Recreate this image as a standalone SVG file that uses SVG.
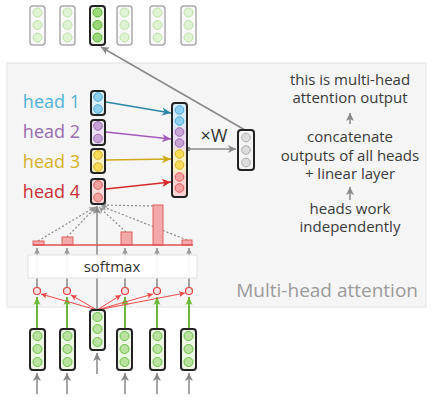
<svg xmlns="http://www.w3.org/2000/svg" width="436" height="400" viewBox="0 0 436 400">
<defs>
<marker id="ag" markerUnits="userSpaceOnUse" markerWidth="9" markerHeight="9" refX="8" refY="4.5" orient="auto"><path d="M0,0.5 L8,4.5 L0,8.5 L2,4.5 z" fill="#888"/></marker>
<marker id="ags" markerUnits="userSpaceOnUse" markerWidth="7" markerHeight="7" refX="6" refY="3.5" orient="auto"><path d="M0,0.5 L6,3.5 L0,6.5 L1.5,3.5 z" fill="#999"/></marker>
<marker id="agr" markerUnits="userSpaceOnUse" markerWidth="7" markerHeight="7" refX="6" refY="3.5" orient="auto"><path d="M0,0.5 L6,3.5 L0,6.5 L1.5,3.5 z" fill="#e84545"/></marker>
<marker id="agn" markerUnits="userSpaceOnUse" markerWidth="9" markerHeight="9" refX="8" refY="4.5" orient="auto"><path d="M0,1 L8,4.5 L0,8 L2,4.5 z" fill="#6ab83b"/></marker>
<marker id="a1" markerUnits="userSpaceOnUse" markerWidth="10" markerHeight="10" refX="9" refY="5" orient="auto"><path d="M0,1 L9,5 L0,9 L2.5,5 z" fill="#2a86a6"/></marker>
<marker id="a2" markerUnits="userSpaceOnUse" markerWidth="10" markerHeight="10" refX="9" refY="5" orient="auto"><path d="M0,1 L9,5 L0,9 L2.5,5 z" fill="#a25cb8"/></marker>
<marker id="a3" markerUnits="userSpaceOnUse" markerWidth="10" markerHeight="10" refX="9" refY="5" orient="auto"><path d="M0,1 L9,5 L0,9 L2.5,5 z" fill="#cfa817"/></marker>
<marker id="a4" markerUnits="userSpaceOnUse" markerWidth="10" markerHeight="10" refX="9" refY="5" orient="auto"><path d="M0,1 L9,5 L0,9 L2.5,5 z" fill="#d62a2a"/></marker>
<linearGradient id="cg" x1="0" y1="0" x2="0" y2="1">
<stop offset="0" stop-color="#d7ecf8"/><stop offset="0.22" stop-color="#d7ecf8"/>
<stop offset="0.3" stop-color="#ebdcf0"/><stop offset="0.46" stop-color="#ebdcf0"/>
<stop offset="0.54" stop-color="#fbf0c2"/><stop offset="0.7" stop-color="#fbf0c2"/>
<stop offset="0.78" stop-color="#f9d5d5"/><stop offset="1" stop-color="#f9d5d5"/>
</linearGradient>
</defs>
<style>
text{font-family:"Open Sans","Liberation Sans",sans-serif}
.box{stroke:#222;stroke-width:2}
.faded{fill:#fafafa;stroke:#aaa;stroke-width:1.5}
.gc{fill:#b9e39f;stroke:#6cbf4a;stroke-width:1}
.gcf{fill:#dff2d2;stroke:#bde0a8;stroke-width:1}
.gcb{fill:#9ad877;stroke:#5cb338;stroke-width:1}
.c1{fill:#8fd0f0;stroke:#4ea8d6;stroke-width:1}
.c2{fill:#c7a3d6;stroke:#9b6bb0;stroke-width:1}
.c3{fill:#f8dc55;stroke:#d6b22a;stroke-width:1}
.c4{fill:#f5a3a3;stroke:#de5b5b;stroke-width:1}
.cgy{fill:#ddd;stroke:#aaa;stroke-width:1}
.gl{stroke:#888;stroke-width:1.5;fill:none}
.dot{stroke:#888;stroke-width:1.2;stroke-dasharray:2 2;fill:none}
.rl{stroke:#ee4a4a;stroke-width:1;fill:none}
.gr{stroke:#6ab83b;stroke-width:2;fill:none}
.bar{fill:#f3a9a9;stroke:#e06060;stroke-width:1}
.rt{font-size:15px;fill:#3a3a3a;text-anchor:middle}
.hl{font-size:18px}
</style>

<g id="panel">
<rect x="7" y="63" width="419" height="244" fill="#f5f5f5" stroke="#e2e2e2" stroke-width="1"/>
<text x="418" y="297" font-size="19" fill="#9a9a9a" text-anchor="end">Multi-head attention</text>
</g>

<g id="connectors">
<line class="gl" x1="37" y1="394" x2="37" y2="373" marker-end="url(#ag)"/>
<line class="gl" x1="67" y1="394" x2="67" y2="373" marker-end="url(#ag)"/>
<line class="gl" x1="97" y1="374" x2="97" y2="353" marker-end="url(#ag)"/>
<line class="gl" x1="125" y1="394" x2="125" y2="373" marker-end="url(#ag)"/>
<line class="gl" x1="157" y1="394" x2="157" y2="373" marker-end="url(#ag)"/>
<line class="gl" x1="189" y1="394" x2="189" y2="373" marker-end="url(#ag)"/>
<line class="gr" x1="37" y1="328" x2="37" y2="297" marker-end="url(#agn)"/>
<line class="gr" x1="67" y1="328" x2="67" y2="297" marker-end="url(#agn)"/>
<line class="gr" x1="125" y1="328" x2="125" y2="297" marker-end="url(#agn)"/>
<line class="gr" x1="157" y1="328" x2="157" y2="297" marker-end="url(#agn)"/>
<line class="gr" x1="189" y1="328" x2="189" y2="297" marker-end="url(#agn)"/>
<line class="rl" x1="97" y1="310" x2="41" y2="294" marker-end="url(#agr)"/>
<line class="rl" x1="97" y1="310" x2="71" y2="295" marker-end="url(#agr)"/>
<line class="rl" x1="97" y1="310" x2="121" y2="295" marker-end="url(#agr)"/>
<line class="rl" x1="97" y1="310" x2="153" y2="294" marker-end="url(#agr)"/>
<line class="rl" x1="97" y1="310" x2="185" y2="293" marker-end="url(#agr)"/>
<line class="gl" stroke-width="1.2" x1="37" y1="288" x2="37" y2="248" marker-end="url(#ags)"/>
<line class="gl" stroke-width="1.2" x1="67" y1="288" x2="67" y2="248" marker-end="url(#ags)"/>
<line class="gl" stroke-width="1.2" x1="125" y1="288" x2="125" y2="248" marker-end="url(#ags)"/>
<line class="gl" stroke-width="1.2" x1="157" y1="288" x2="157" y2="248" marker-end="url(#ags)"/>
<line class="gl" stroke-width="1.2" x1="189" y1="288" x2="189" y2="248" marker-end="url(#ags)"/>
<line class="gl" x1="97" y1="310" x2="97" y2="206" marker-end="url(#ag)"/>
<line class="dot" x1="38" y1="241" x2="95" y2="207" marker-end="url(#ags)"/>
<line class="dot" x1="67" y1="237" x2="96" y2="207" marker-end="url(#ags)"/>
<line class="dot" x1="126" y1="232" x2="99" y2="207" marker-end="url(#ags)"/>
<line class="dot" x1="153" y1="206" x2="101" y2="205" marker-end="url(#ags)"/>
<line class="dot" x1="187" y1="240" x2="101" y2="206" marker-end="url(#ags)"/>
<line stroke="#2a86a6" stroke-width="1.5" x1="106" y1="102" x2="171" y2="113" marker-end="url(#a1)"/>
<line stroke="#a25cb8" stroke-width="1.5" x1="106" y1="132" x2="171" y2="139" marker-end="url(#a2)"/>
<line stroke="#cfa817" stroke-width="1.5" x1="106" y1="160" x2="171" y2="159" marker-end="url(#a3)"/>
<line stroke="#d62a2a" stroke-width="1.5" x1="106" y1="189" x2="171" y2="182" marker-end="url(#a4)"/>
<rect x="186" y="147" width="4" height="4" fill="#888"/>
<line class="gl" x1="188" y1="149" x2="236" y2="149" marker-end="url(#ag)"/>
<line class="gl" x1="245" y1="130" x2="101" y2="47" marker-end="url(#ag)"/>
<line class="gl" x1="350" y1="124" x2="350" y2="113" marker-end="url(#ag)"/>
<line class="gl" x1="350" y1="200" x2="350" y2="187" marker-end="url(#ag)"/>
</g>

<g id="softmax">
<rect x="28" y="255" width="169" height="23" fill="#ffffff" fill-opacity="0.95" stroke="#e0e0e0" stroke-width="1"/>
<text x="112" y="272" font-size="15" fill="#333" text-anchor="middle">softmax</text>
</g>

<g id="attention-weights">
<rect class="bar" x="33" y="241" width="11" height="4"/>
<rect class="bar" x="62" y="237" width="11" height="8"/>
<rect class="bar" x="121" y="232" width="11" height="13"/>
<rect class="bar" x="153" y="205" width="10" height="40"/>
<rect class="bar" x="182" y="240" width="10" height="5"/>
<line x1="33" y1="245" x2="193" y2="245" stroke="#e05050" stroke-width="1.5"/>
</g>

<g id="scores">
<circle cx="37" cy="291" r="3.5" fill="#fde3e3" stroke="#e04040" stroke-width="1.2"/>
<circle cx="67" cy="291" r="3.5" fill="#fde3e3" stroke="#e04040" stroke-width="1.2"/>
<circle cx="125" cy="291" r="3.5" fill="#fde3e3" stroke="#e04040" stroke-width="1.2"/>
<circle cx="157" cy="291" r="3.5" fill="#fde3e3" stroke="#e04040" stroke-width="1.2"/>
<circle cx="189" cy="291" r="3.5" fill="#fde3e3" stroke="#e04040" stroke-width="1.2"/>
</g>

<g id="inputs">
<g id="in1"><rect class="box" x="30" y="329" width="15" height="41" rx="3" fill="#ecf7e4"/><circle class="gc" cx="37.5" cy="336" r="4.5"/><circle class="gc" cx="37.5" cy="349" r="4.5"/><circle class="gc" cx="37.5" cy="362" r="4.5"/></g>
<g id="in2"><rect class="box" x="60" y="329" width="15" height="41" rx="3" fill="#ecf7e4"/><circle class="gc" cx="67.5" cy="336" r="4.5"/><circle class="gc" cx="67.5" cy="349" r="4.5"/><circle class="gc" cx="67.5" cy="362" r="4.5"/></g>
<g id="in3"><rect class="box" x="90" y="310" width="15" height="40" rx="3" fill="#ecf7e4"/><circle class="gc" cx="97.5" cy="317" r="4.5"/><circle class="gc" cx="97.5" cy="329" r="4.5"/><circle class="gc" cx="97.5" cy="342" r="4.5"/></g>
<g id="in4"><rect class="box" x="117" y="329" width="15" height="41" rx="3" fill="#ecf7e4"/><circle class="gc" cx="124.5" cy="336" r="4.5"/><circle class="gc" cx="124.5" cy="349" r="4.5"/><circle class="gc" cx="124.5" cy="362" r="4.5"/></g>
<g id="in5"><rect class="box" x="150" y="329" width="15" height="41" rx="3" fill="#ecf7e4"/><circle class="gc" cx="157.5" cy="336" r="4.5"/><circle class="gc" cx="157.5" cy="349" r="4.5"/><circle class="gc" cx="157.5" cy="362" r="4.5"/></g>
<g id="in6"><rect class="box" x="181" y="329" width="15" height="41" rx="3" fill="#ecf7e4"/><circle class="gc" cx="188.5" cy="336" r="4.5"/><circle class="gc" cx="188.5" cy="349" r="4.5"/><circle class="gc" cx="188.5" cy="362" r="4.5"/></g>
</g>

<g id="outputs-top">
<g id="out1"><rect class="faded" x="30" y="6" width="15" height="39" rx="3"/><circle class="gcf" cx="37.5" cy="12.5" r="4.5"/><circle class="gcf" cx="37.5" cy="25" r="4.5"/><circle class="gcf" cx="37.5" cy="37.5" r="4.5"/></g>
<g id="out2"><rect class="faded" x="60" y="6" width="15" height="39" rx="3"/><circle class="gcf" cx="67.5" cy="12.5" r="4.5"/><circle class="gcf" cx="67.5" cy="25" r="4.5"/><circle class="gcf" cx="67.5" cy="37.5" r="4.5"/></g>
<g id="out3"><rect class="box" x="90" y="6" width="15" height="39" rx="3" fill="#ecf7e4"/><circle class="gcb" cx="97.5" cy="12.5" r="4.5"/><circle class="gcb" cx="97.5" cy="25" r="4.5"/><circle class="gcb" cx="97.5" cy="37.5" r="4.5"/></g>
<g id="out4"><rect class="faded" x="117" y="6" width="15" height="39" rx="3"/><circle class="gcf" cx="124.5" cy="12.5" r="4.5"/><circle class="gcf" cx="124.5" cy="25" r="4.5"/><circle class="gcf" cx="124.5" cy="37.5" r="4.5"/></g>
<g id="out5"><rect class="faded" x="150" y="6" width="15" height="39" rx="3"/><circle class="gcf" cx="157.5" cy="12.5" r="4.5"/><circle class="gcf" cx="157.5" cy="25" r="4.5"/><circle class="gcf" cx="157.5" cy="37.5" r="4.5"/></g>
<g id="out6"><rect class="faded" x="181" y="6" width="15" height="39" rx="3"/><circle class="gcf" cx="188.5" cy="12.5" r="4.5"/><circle class="gcf" cx="188.5" cy="25" r="4.5"/><circle class="gcf" cx="188.5" cy="37.5" r="4.5"/></g>
</g>

<g id="head1">
<text class="hl" x="80" y="108" fill="#4fb3d9" text-anchor="end">head 1</text>
<rect class="box" x="91" y="91" width="14" height="24" rx="3" fill="#dcf0fb"/>
<circle class="c1" cx="98" cy="97" r="4.3"/><circle class="c1" cx="98" cy="109" r="4.3"/>
</g>
<g id="head2">
<text class="hl" x="80" y="138" fill="#9a6bb0" text-anchor="end">head 2</text>
<rect class="box" x="91" y="120" width="14" height="25" rx="3" fill="#ece0f1"/>
<circle class="c2" cx="98" cy="126" r="4.3"/><circle class="c2" cx="98" cy="138.5" r="4.3"/>
</g>
<g id="head3">
<text class="hl" x="80" y="168" fill="#d6b12c" text-anchor="end">head 3</text>
<rect class="box" x="91" y="149" width="14" height="24" rx="3" fill="#fcf2c6"/>
<circle class="c3" cx="98" cy="155" r="4.3"/><circle class="c3" cx="98" cy="167" r="4.3"/>
</g>
<g id="head4">
<text class="hl" x="80" y="198" fill="#c92f35" text-anchor="end">head 4</text>
<rect class="box" x="91" y="179" width="14" height="25" rx="3" fill="#fadada"/>
<circle class="c4" cx="98" cy="185" r="4.3"/><circle class="c4" cx="98" cy="197.5" r="4.3"/>
</g>

<g id="concat">
<rect class="box" x="172" y="103" width="15" height="94" rx="3" fill="url(#cg)"/>
<circle class="c1" cx="179.5" cy="110" r="4.3"/><circle class="c1" cx="179.5" cy="121" r="4.3"/>
<circle class="c2" cx="179.5" cy="132" r="4.3"/><circle class="c2" cx="179.5" cy="143" r="4.3"/>
<circle class="c3" cx="179.5" cy="154" r="4.3"/><circle class="c3" cx="179.5" cy="165" r="4.3"/>
<circle class="c4" cx="179.5" cy="177" r="4.3"/><circle class="c4" cx="179.5" cy="188" r="4.3"/>
</g>

<g id="xw-label"><text x="214" y="142" font-size="18" fill="#333" text-anchor="middle">×W</text></g>

<g id="mha-output">
<rect class="box" x="238" y="130" width="16" height="40" rx="3" fill="#f4f4f4"/>
<circle class="cgy" cx="246" cy="137.5" r="4.3"/><circle class="cgy" cx="246" cy="150" r="4.3"/><circle class="cgy" cx="246" cy="162.5" r="4.3"/>
</g>

<g id="notes">
<text class="rt" x="350" y="85">this is multi-head</text>
<text class="rt" x="350" y="103">attention output</text>
<text class="rt" x="350" y="142">concatenate</text>
<text class="rt" x="350" y="161">outputs of all heads</text>
<text class="rt" x="350" y="179">+ linear layer</text>
<text class="rt" x="350" y="214">heads work</text>
<text class="rt" x="350" y="232">independently</text>
</g>
</svg>
